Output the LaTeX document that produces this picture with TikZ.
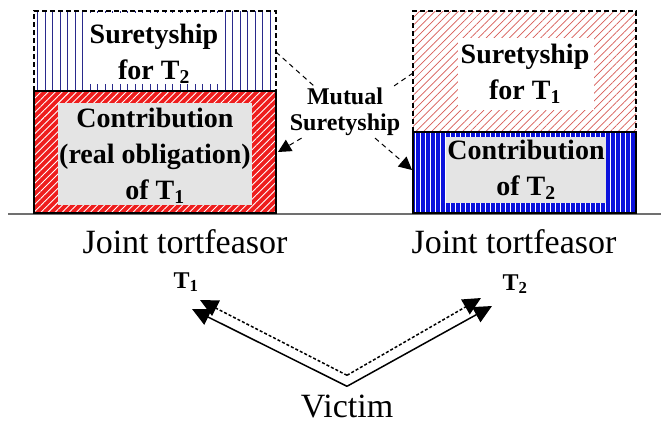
\documentclass[tikz,border=0pt]{standalone}
\usepackage{fontspec}
\setmainfont{Liberation Serif}
\usetikzlibrary{arrows.meta,patterns.meta}
\definecolor{shareRed}{HTML}{EE1D1D}
\definecolor{shareBlue}{HTML}{0B12DC}
\definecolor{core}{HTML}{E4E4E4}
\definecolor{navy}{HTML}{2A2A8C}
\definecolor{hatchRed}{HTML}{D65A55}
\definecolor{ground}{HTML}{707070}
\tikzset{
  wall/.style={draw=black, line width=2.8pt},
  guar/.style={draw=black, line width=1.4pt, dash pattern=on 5pt off 3pt},
  redhatch/.style={fill=shareRed, postaction={pattern={Lines[angle=45,distance=5pt,line width=0.9pt]}, pattern color=white}},
  bluebars/.style={fill=shareBlue, postaction={pattern={Lines[angle=90,distance=5pt,line width=1pt]}, pattern color=white}},
  navybars/.style={pattern={Lines[angle=90,distance=7.5pt,line width=0.6pt]}, pattern color=navy},
  pinkhatch/.style={pattern={Lines[angle=45,distance=5.5pt,line width=0.7pt]}, pattern color=hatchRed},
  lab/.style={font=\fontsize{28}{36}\selectfont\bfseries, align=center, inner sep=2pt},
  labs/.style={font=\fontsize{24}{26}\selectfont\bfseries, align=center, inner sep=2pt},
  big/.style={font=\fontsize{34}{40}\selectfont, inner sep=0pt, anchor=base},
  link/.style={draw=black, line width=1pt, dash pattern=on 5pt off 4pt},
  tipS/.style={-{Triangle[length=13pt,width=13pt]}},
  hit/.style={draw=black, line width=1.5pt, -{Triangle[length=18pt,width=17pt]}},
}
\begin{document}
\begin{tikzpicture}[x=1pt,y=-1pt]
  \useasboundingbox (0,0) rectangle (661,423);
  \draw[ground, line width=1.5pt] (8,214) -- (661,214);

  \path[navybars] (34,11) rectangle (276,91);
  \fill[white] (84,13) rectangle (222,84);
  \draw[guar] (34,91) |- (276,11) -- (276,91);
  \path[redhatch] (34,91) rectangle (276,213);
  \fill[core] (58,103) rectangle (252,205);
  \draw[wall] (34,91) rectangle (276,213);

  \path[pinkhatch] (413,11) rectangle (636,132);
  \fill[white] (458,38) rectangle (594,110);
  \draw[guar] (413,132) |- (636,11) -- (636,132);
  \path[bluebars] (413,132) rectangle (636,213);
  \fill[core] (446,137) rectangle (606,203);
  \draw[wall] (413,132) rectangle (636,213);

  \node[lab] (sure2) at (154,54) {Suretyship\\for T\textsubscript{2}};
  \node[lab] (contrib1) at (155,156) {Contribution\\(real obligation)\\of T\textsubscript{1}};
  \node[lab] (sure1) at (525,74) {Suretyship\\for T\textsubscript{1}};
  \node[lab] (contrib2) at (526,170) {Contribution\\of T\textsubscript{2}};

  \node[labs] (mutual) at (345,112) {Mutual\\Suretyship};
  \coordinate (sL) at (276,52);
  \coordinate (sR) at (413,73);
  \coordinate (cL) at (278,152);
  \coordinate (cR) at (412,170);
  \draw[link] (sL) -- (mutual.140);
  \draw[link] (sR) -- (mutual.28);
  \draw[link, tipS] (mutual.211) -- (cL);
  \draw[link, tipS] (mutual.319) -- (cR);

  \foreach \X/\x/\t in {1/186/288,2/515/290}{
    \node[big] (joint\X) at (\x-1,253) {Joint tortfeasor};
    \node[labs, anchor=base] (T\X) at (\x,\t) {T\textsubscript{\X}};
  }
  \node[big] (victim) at (347,417) {Victim};

  \coordinate (tipLs) at (192,309);
  \coordinate (tipLd) at (200,300);
  \coordinate (tipRd) at (481,298);
  \coordinate (tipRs) at (492,306);
  \draw[hit] ([yshift=8pt]victim.north) -- (tipLs);
  \draw[hit] ([yshift=8pt]victim.north) -- (tipRs);
  \draw[hit, dash pattern=on 3pt off 2pt] ([yshift=19pt]victim.north) -- (tipLd);
  \draw[hit, dash pattern=on 3pt off 2pt] ([yshift=19pt]victim.north) -- (tipRd);
\end{tikzpicture}
\end{document}
